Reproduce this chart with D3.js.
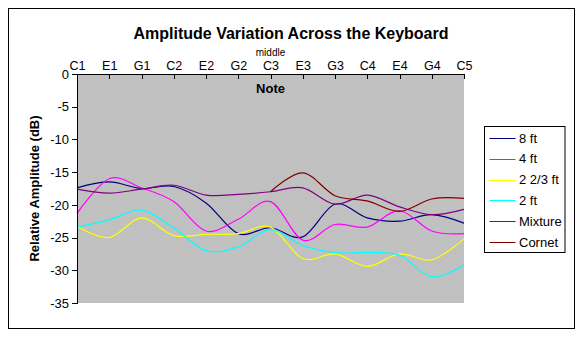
<!DOCTYPE html>
<html><head><meta charset="utf-8">
<script src="https://cdn.jsdelivr.net/npm/d3@7"></script>
<style>
html,body{margin:0;padding:0;background:#fff;}
text{font-family:"Liberation Sans",Arial,sans-serif;}
</style></head>
<body>
<svg id="chart" width="586" height="338"></svg>
<script>
const categories = ["C1","E1","G1","C2","E2","G2","C3","E3","G3","C4","E4","G4","C5"];
const yTicks = [0,-5,-10,-15,-20,-25,-30,-35];
const seriesNames = ["8 ft","4 ft","2 2/3 ft","2 ft","Mixture","Cornet"];
const ft8     = [-17.4,-16.5,-17.5,-17.2,-19.7,-24.4,-23.5,-24.9,-19.9,-22.0,-22.5,-21.5,-22.8];
const ft4     = [-21.3,-16.0,-17.4,-19.5,-24.0,-22.2,-19.5,-25.4,-23.0,-23.4,-20.9,-24.0,-24.4];
const ft223   = [-23.3,-25.0,-22.0,-24.7,-24.5,-24.4,-23.4,-28.2,-27.5,-29.4,-27.5,-28.4,-25.2];
const ft2     = [-23.4,-22.3,-20.8,-23.5,-27.0,-26.4,-23.8,-26.2,-27.3,-27.3,-27.7,-31.0,-29.2];
const mixture = [-17.6,-18.2,-17.6,-17.0,-18.5,-18.4,-18.0,-17.4,-19.9,-18.5,-20.3,-21.5,-20.7];
const cornet  = [null,null,null,null,null,null,-18.0,-15.1,-18.6,-19.4,-21.0,-19.1,-19.0];
const seriesValues = [ft8, ft4, ft223, ft2, mixture, cornet];
const colors = ["#000080","#ff00ff","#ffff00","#00ffff","#800080","#800000"];

const svg = d3.select("#chart");
const plot = {left:77, right:464, top:74, bottom:303};

// outer border
svg.append("rect").attr("x",8.5).attr("y",8.5).attr("width",566).attr("height",320)
  .attr("fill","#fff").attr("stroke","#000").attr("stroke-width",1);

// dithered plot background pattern
const defs = svg.append("defs");
const pat = defs.append("pattern").attr("id","dither").attr("patternUnits","userSpaceOnUse")
  .attr("width",4).attr("height",4);
const ditherPix = [
  ["#c0c0c0","#d6b4d6","#c0c0c0","#bcc6bc"],
  ["#bcc6bc","#c0c0c0","#c8b8c8","#c0c0c0"],
  ["#c0c0c0","#c8b8c8","#c0c0c0","#d6b4d6"],
  ["#d0b6d0","#c0c0c0","#bcc6bc","#c0c0c0"]
];
ditherPix.forEach((row,r)=>row.forEach((c,k)=>{
  pat.append("rect").attr("x",k).attr("y",r).attr("width",1).attr("height",1).attr("fill",c);
}));

const x = d3.scalePoint().domain(categories).range([plot.left, plot.right]).padding(0);
const y = d3.scaleLinear().domain([-35,0]).range([plot.bottom, plot.top]);

svg.append("rect").attr("x",plot.left).attr("y",plot.top)
  .attr("width",plot.right-plot.left).attr("height",plot.bottom-plot.top)
  .attr("fill","url(#dither)");

// series lines
const line = d3.line()
  .defined(d => d.v != null)
  .x(d => x(d.c)).y(d => y(d.v))
  .curve(d3.curveCatmullRom.alpha(0));

seriesValues.forEach((vals,i)=>{
  const data = categories.map((c,j)=>({c, v: vals[j]}));
  svg.append("path").datum(data).attr("d",line)
    .attr("fill","none").attr("stroke",colors[i]).attr("stroke-width",1.2);
});

// axes
const xAxis = d3.axisTop(x).tickSize(-5).tickSizeOuter(0).tickPadding(4);
const gx = svg.append("g").attr("transform",`translate(0,${plot.top})`).call(xAxis);
gx.selectAll("text").attr("font-size",12.5).attr("fill","#000").attr("font-family","Liberation Sans, Arial, sans-serif");
gx.selectAll("line").attr("stroke","#000").attr("shape-rendering","crispEdges");
gx.select(".domain").attr("stroke","#000").attr("shape-rendering","crispEdges");

const yAxis = d3.axisLeft(y).tickValues(yTicks).tickSize(5).tickSizeOuter(0).tickPadding(3)
  .tickFormat(d => String(d));
const gy = svg.append("g").attr("transform",`translate(${plot.left},0)`).call(yAxis);
gy.selectAll("text").attr("font-size",13).attr("fill","#000").attr("font-family","Liberation Sans, Arial, sans-serif");
gy.selectAll("line").attr("stroke","#000").attr("shape-rendering","crispEdges");
gy.select(".domain").attr("stroke","#000").attr("shape-rendering","crispEdges");

// "middle" above C3
svg.append("text").attr("x",x("C3")).attr("y",56).attr("text-anchor","middle")
  .attr("font-size",10).text("middle");

// title
svg.append("text").attr("x",291).attr("y",39).attr("text-anchor","middle")
  .attr("font-size",16).attr("font-weight","bold").text("Amplitude Variation Across the Keyboard");

// axis titles
svg.append("text").attr("x",(plot.left+plot.right)/2).attr("y",93).attr("text-anchor","middle")
  .attr("font-size",13).attr("font-weight","bold").text("Note");
svg.append("text").attr("transform",`translate(39,${(plot.top+plot.bottom)/2}) rotate(-90)`)
  .attr("text-anchor","middle").attr("font-size",13).attr("font-weight","bold")
  .text("Relative Amplitude (dB)");

// legend
const lg = svg.append("g");
lg.append("rect").attr("x",484.5).attr("y",126.5).attr("width",80.5).attr("height",126)
  .attr("fill","#fff").attr("stroke","#000").attr("stroke-width",1);
seriesNames.forEach((name,i)=>{
  const cy = 138 + i*20.8;
  lg.append("line").attr("x1",489.5).attr("x2",515.5).attr("y1",Math.round(cy)+0.5).attr("y2",Math.round(cy)+0.5)
    .attr("stroke",colors[i]).attr("stroke-width",1);
  lg.append("text").attr("x",519).attr("y",cy+4.5).attr("font-size",13).text(name);
});
</script>
</body></html>
